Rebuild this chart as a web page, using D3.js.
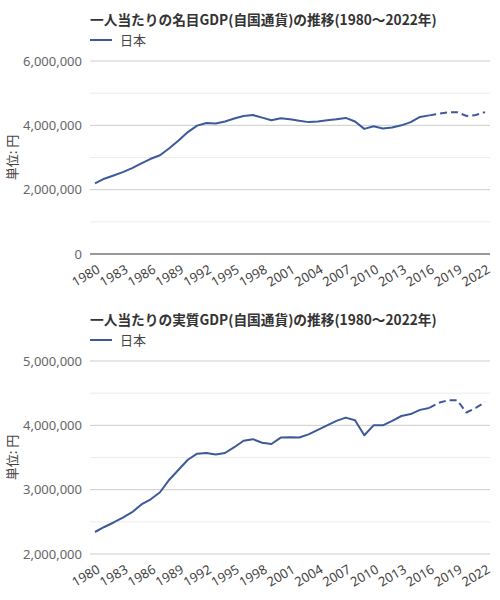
<!DOCTYPE html>
<html>
<head>
<meta charset="utf-8">
<script src="https://cdn.jsdelivr.net/npm/d3@7"></script>
<style>
  body { margin: 0; background: #fff; }
  svg { font-family: "Noto Sans CJK JP", "Noto Sans", sans-serif; }
</style>
</head>
<body>
<div id="chart"></div>
<script>
// years shown on both charts
var years = [1980, 1981, 1982, 1983, 1984, 1985, 1986, 1987, 1988, 1989,
             1990, 1991, 1992, 1993, 1994, 1995, 1996, 1997, 1998, 1999,
             2000, 2001, 2002, 2003, 2004, 2005, 2006, 2007, 2008, 2009,
             2010, 2011, 2012, 2013, 2014, 2015, 2016, 2017, 2018, 2019,
             2020, 2021, 2022];

var xTickYears = [1980, 1983, 1986, 1989, 1992, 1995, 1998, 2001, 2004,
                  2007, 2010, 2013, 2016, 2019, 2022];

// 名目GDP (円)
var nominalGdp = [2195000, 2340000, 2440000, 2545000, 2670000, 2815000, 2960000, 3070000, 3290000, 3530000,
                  3790000, 3990000, 4070000, 4060000, 4120000, 4210000, 4290000, 4320000, 4240000, 4160000,
                  4220000, 4190000, 4140000, 4100000, 4120000, 4160000, 4190000, 4230000, 4120000, 3890000,
                  3970000, 3900000, 3930000, 4000000, 4100000, 4260000, 4310000, 4360000, 4400000, 4410000,
                  4290000, 4320000, 4410000];

// 実質GDP (円)
var realGdp = [2342000, 2420000, 2490000, 2565000, 2650000, 2770000, 2850000, 2960000, 3155000, 3310000,
               3465000, 3560000, 3570000, 3545000, 3570000, 3660000, 3760000, 3785000, 3730000, 3710000,
               3810000, 3815000, 3810000, 3860000, 3930000, 4000000, 4070000, 4120000, 4080000, 3845000,
               4000000, 4000000, 4070000, 4145000, 4175000, 4240000, 4270000, 4350000, 4390000, 4390000,
               4200000, 4270000, 4360000];

var estimateFrom = 2016;   // dashed from here on

var nominalTicks = [0, 2000000, 4000000, 6000000];
var nominalMinor = [1000000, 3000000, 5000000];
var realTicks = [2000000, 3000000, 4000000, 5000000];
var realMinor = [2500000, 3500000, 4500000];

var lineColor = "#3c5a99";

var svg = d3.select("#chart").append("svg")
  .attr("width", 500)
  .attr("height", 600);

function drawChart(offsetY, title, values, domain, ticks, minor, darkBase) {
  var g = svg.append("g").attr("transform", "translate(0," + offsetY + ")");

  var x = d3.scaleLinear().domain([1980, 2022]).range([95, 485]);
  var y = d3.scaleLinear().domain(domain).range([254, 61]);

  // title
  g.append("text")
    .attr("x", 90).attr("y", 25)
    .attr("font-size", "13.7px")
    .attr("font-weight", "bold")
    .attr("fill", "#333")
    .text(title);

  // legend
  g.append("line")
    .attr("x1", 90).attr("x2", 112)
    .attr("y1", 40).attr("y2", 40)
    .attr("stroke", lineColor)
    .attr("stroke-width", 2);
  g.append("text")
    .attr("x", 120).attr("y", 45)
    .attr("font-size", "13px")
    .attr("fill", "#444")
    .text("日本");

  // minor grid
  g.selectAll("line.minor")
    .data(minor)
    .enter().append("line")
    .attr("class", "minor")
    .attr("x1", 90).attr("x2", 490)
    .attr("y1", function(d) { return y(d); })
    .attr("y2", function(d) { return y(d); })
    .attr("stroke", "#ececec");

  // major grid
  g.selectAll("line.major")
    .data(ticks)
    .enter().append("line")
    .attr("class", "major")
    .attr("x1", 90).attr("x2", 490)
    .attr("y1", function(d) { return y(d); })
    .attr("y2", function(d) { return y(d); })
    .attr("stroke", function(d, i) { return (darkBase && i == 0) ? "#333" : "#cccccc"; });

  // y axis labels
  var yAxis = d3.axisLeft(y)
    .tickValues(ticks)
    .tickFormat(d3.format(","))
    .tickSize(0)
    .tickPadding(8);
  var ya = g.append("g").attr("transform", "translate(90,0)").call(yAxis);
  ya.select(".domain").remove();
  ya.selectAll("text")
    .attr("font-size", "13px")
    .attr("font-family", "'Noto Sans', sans-serif")
    .attr("fill", "#666");

  // y title
  g.append("text")
    .attr("transform", "translate(17," + ((y.range()[0] + y.range()[1]) / 2) + ") rotate(-90)")
    .attr("text-anchor", "middle")
    .attr("font-size", "13px")
    .attr("fill", "#444")
    .text("単位: 円");

  // x labels
  g.selectAll("text.xlab")
    .data(xTickYears)
    .enter().append("text")
    .attr("class", "xlab")
    .attr("transform", function(d) { return "translate(" + (x(d) + 6) + ",272) rotate(-30)"; })
    .attr("text-anchor", "end")
    .attr("font-size", "13px")
    .attr("font-family", "'Noto Sans', sans-serif")
    .attr("fill", "#444")
    .text(function(d) { return d; });

  var pts = years.map(function(yr, i) { return { year: yr, v: values[i] }; });
  var line = d3.line()
    .x(function(d) { return x(d.year); })
    .y(function(d) { return y(d.v); });

  g.append("path")
    .datum(pts.filter(function(d) { return d.year <= estimateFrom; }))
    .attr("fill", "none")
    .attr("stroke", lineColor)
    .attr("stroke-width", 2)
    .attr("stroke-linejoin", "round")
    .attr("d", line);

  g.append("path")
    .datum(pts.filter(function(d) { return d.year >= estimateFrom; }))
    .attr("fill", "none")
    .attr("stroke", lineColor)
    .attr("stroke-width", 2)
    .attr("stroke-dasharray", "7,4")
    .attr("d", line);
}

drawChart(0, "一人当たりの名目GDP(自国通貨)の推移(1980〜2022年)", nominalGdp,
          [0, 6000000], nominalTicks, nominalMinor, true);
drawChart(300, "一人当たりの実質GDP(自国通貨)の推移(1980〜2022年)", realGdp,
          [2000000, 5000000], realTicks, realMinor, false);
</script>
</body>
</html>
